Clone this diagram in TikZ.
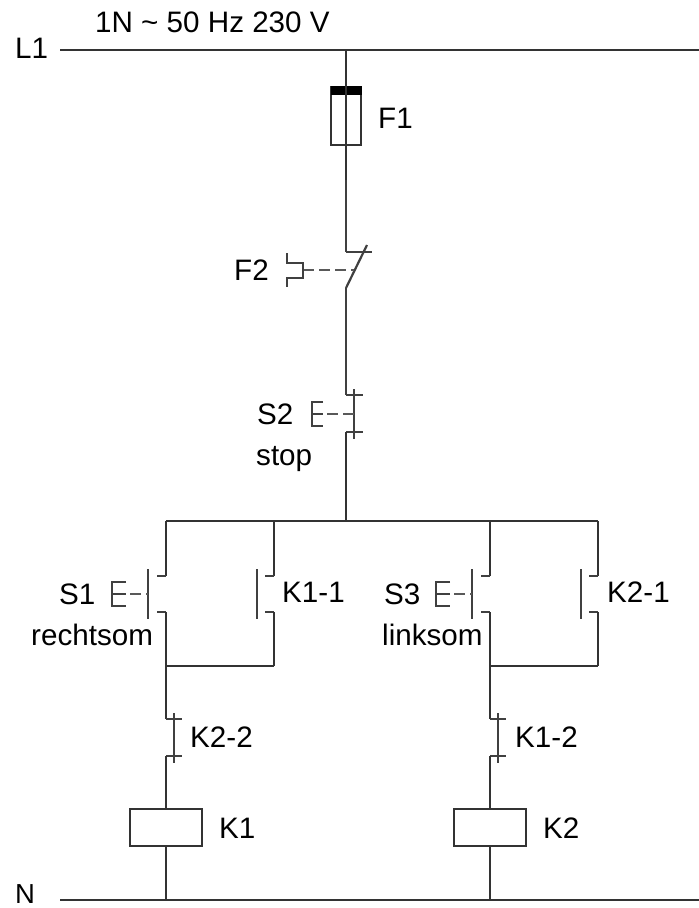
\documentclass[tikz,border=0pt]{standalone}
\usepackage{fontspec}
\setmainfont{Liberation Sans}
\begin{document}
\begin{tikzpicture}[x=1pt, y=-1pt,
				    wire/.style={draw=black!80, line width=2.8pt},
				    thinwire/.style={draw=black!75, line width=2.2pt},
				    dashwire/.style={draw=black!65, line width=1.5pt, dash pattern=on 11pt off 5pt},
				    part/.style={draw=black!80, line width=2.8pt, fill=white, rectangle,
				    			  inner sep=0pt, minimum width=72pt, minimum height=37pt},
				    txt/.style={inner sep=0pt, anchor=mid west, text=black,
				    			  font=\fontsize{29.6}{32}\selectfont}]
	\useasboundingbox (0, 0) rectangle (699, 908);
	\fill[white] (0, 0) rectangle (699, 908);

	\node[txt] (lL) at (15, 56) {L1};
	\node[txt, font=\fontsize{27.5}{30}\selectfont] (lN) at (15, 901) {N};
	\node[txt] (lV) at (95, 30) {1N \char`~\ 50 Hz 230 V};
	\node[txt] (lF1) at (378, 126) {F1};
	\node[txt] (lF2) at (234, 278) {F2};
	\node[txt] (lS2) at (257, 422) {S2};
	\node[txt] (lstop) at (256, 463) {stop};
	\node[txt] (lS1) at (59, 602) {S1};
	\node[txt] (lre) at (31, 643) {rechtsom};
	\node[txt] (lK11) at (282, 600) {K1-1};
	\node[txt] (lS3) at (384, 602) {S3};
	\node[txt] (lli) at (382, 643) {linksom};
	\node[txt] (lK21) at (607, 600) {K2-1};
	\node[txt] (lK22) at (190, 745) {K2-2};
	\node[txt] (lK12) at (515, 745) {K1-2};
	\node[txt] (lK1) at (219, 836) {K1};
	\node[txt] (lK2) at (543, 836) {K2};

	% supply
	\coordinate (a0) at (60, 50);
	\coordinate (a1) at (346, 50);
	\coordinate (a2) at (699, 50);
	\coordinate (n0) at (60, 900);
	\coordinate (n1) at (166, 900);
	\coordinate (n2) at (490, 900);
	\coordinate (n3) at (699, 900);
	\path[wire] (a0) edge (a2);
	\path[wire] (n0) edge (n3);

	% F1
	\node[part, minimum width=30pt, minimum height=58pt, fill=none] (F1) at (346, 116) {};
	\node[fill=black, inner sep=0pt, minimum width=31pt, minimum height=9pt] (F1t) at (346, 90) {};
	\coordinate (f0) at (346, 180);
	\path[wire] (a1) edge (f0);

	% F2
	\coordinate (b1) at (346, 252);
	\coordinate (b2) at (372, 252);
	\coordinate (b3) at (346, 288);
	\coordinate (b4) at (367, 245);
	\coordinate (b5) at (346, 392);
	\coordinate (b6) at (303, 270);
	\coordinate (b7) at (354, 270);
	\path[thinwire] (f0) edge (b1);
	\path[thinwire] (b1) edge (b2);
	\path[thinwire] (b3) edge (b4);
	\path[thinwire] (b3) edge (b5);
	\path[dashwire] (b6) edge (b7);
	\draw[thinwire] (287, 253) -- (287, 263) -- (303, 263) -- (303, 278) -- (287, 278) -- (287, 287);

	% S2
	\coordinate (c1) at (346, 395);
	\coordinate (c2) at (363, 395);
	\coordinate (c3) at (354, 389);
	\coordinate (c4) at (354, 439);
	\coordinate (c5) at (346, 432);
	\coordinate (c6) at (363, 432);
	\coordinate (c7) at (346, 521);
	\coordinate (c8) at (327, 414);
	\coordinate (c9) at (354, 414);
	\path[thinwire] (b5) edge (c1);
	\path[thinwire] (c1) edge (c2);
	\path[thinwire] (c3) edge (c4);
	\path[thinwire] (c5) edge (c6);
	\path[wire] (c5) edge (c7);
	\path[dashwire] (c8) edge (c9);
	\draw[thinwire] (323, 402) -- (312, 402) -- (312, 426) -- (323, 426) (312, 414) -- (323, 414);

	% bus
	\coordinate (d1) at (166, 521);
	\coordinate (d2) at (274, 521);
	\coordinate (d3) at (490, 521);
	\coordinate (d4) at (598, 521);
	\draw[wire] (d1) -- (d4);

	% left branch
	\coordinate (e1) at (166, 576);
	\coordinate (e2) at (157, 576);
	\coordinate (e3) at (148, 569);
	\coordinate (e4) at (148, 619);
	\coordinate (e5) at (157, 612);
	\coordinate (e6) at (166, 612);
	\coordinate (e7) at (166, 666);
	\coordinate (e8) at (130, 594);
	\coordinate (e9) at (148, 594);
	\path[wire] (d1) edge (e1);
	\path[thinwire] (e1) edge (e2);
	\path[thinwire] (e3) edge (e4);
	\path[thinwire] (e5) edge (e6);
	\path[wire] (e6) edge (e7);
	\path[dashwire] (e8) edge (e9);
	\draw[thinwire] (126, 582) -- (112, 582) -- (112, 606) -- (126, 606) (112, 594) -- (126, 594);

	\coordinate (g1) at (274, 576);
	\coordinate (g2) at (265, 576);
	\coordinate (g3) at (257, 569);
	\coordinate (g4) at (257, 619);
	\coordinate (g5) at (265, 612);
	\coordinate (g6) at (274, 612);
	\coordinate (g7) at (274, 666);
	\path[wire] (d2) edge (g1);
	\path[thinwire] (g1) edge (g2);
	\path[thinwire] (g3) edge (g4);
	\path[thinwire] (g5) edge (g6);
	\path[wire] (g6) edge (g7);
	\path[wire] (e7) edge (g7);

	\coordinate (h1) at (166, 719);
	\coordinate (h2) at (182, 719);
	\coordinate (h3) at (174, 713);
	\coordinate (h4) at (174, 763);
	\coordinate (h5) at (166, 756);
	\coordinate (h6) at (182, 756);
	\node[part] (K1) at (166, 827.5) {};
	\path[wire] (e7) edge (h1);
	\path[thinwire] (h1) edge (h2);
	\path[thinwire] (h3) edge (h4);
	\path[thinwire] (h5) edge (h6);
	\path[wire] (h5) edge (K1.north);
	\path[wire] (K1.south) edge (n1);

	% right branch
	\coordinate (i1) at (490, 576);
	\coordinate (i2) at (481, 576);
	\coordinate (i3) at (472, 569);
	\coordinate (i4) at (472, 619);
	\coordinate (i5) at (481, 612);
	\coordinate (i6) at (490, 612);
	\coordinate (i7) at (490, 666);
	\coordinate (i8) at (454, 594);
	\coordinate (i9) at (472, 594);
	\path[wire] (d3) edge (i1);
	\path[thinwire] (i1) edge (i2);
	\path[thinwire] (i3) edge (i4);
	\path[thinwire] (i5) edge (i6);
	\path[wire] (i6) edge (i7);
	\path[dashwire] (i8) edge (i9);
	\draw[thinwire] (450, 582) -- (436, 582) -- (436, 606) -- (450, 606) (436, 594) -- (450, 594);

	\coordinate (j1) at (598, 576);
	\coordinate (j2) at (589, 576);
	\coordinate (j3) at (581, 569);
	\coordinate (j4) at (581, 619);
	\coordinate (j5) at (589, 612);
	\coordinate (j6) at (598, 612);
	\coordinate (j7) at (598, 666);
	\path[wire] (d4) edge (j1);
	\path[thinwire] (j1) edge (j2);
	\path[thinwire] (j3) edge (j4);
	\path[thinwire] (j5) edge (j6);
	\path[wire] (j6) edge (j7);
	\path[wire] (i7) edge (j7);

	\coordinate (m1) at (490, 719);
	\coordinate (m2) at (506, 719);
	\coordinate (m3) at (498, 713);
	\coordinate (m4) at (498, 763);
	\coordinate (m5) at (490, 756);
	\coordinate (m6) at (506, 756);
	\node[part] (K2) at (490, 827.5) {};
	\path[wire] (i7) edge (m1);
	\path[thinwire] (m1) edge (m2);
	\path[thinwire] (m3) edge (m4);
	\path[thinwire] (m5) edge (m6);
	\path[wire] (m5) edge (K2.north);
	\path[wire] (K2.south) edge (n2);

\end{tikzpicture}
\end{document}
